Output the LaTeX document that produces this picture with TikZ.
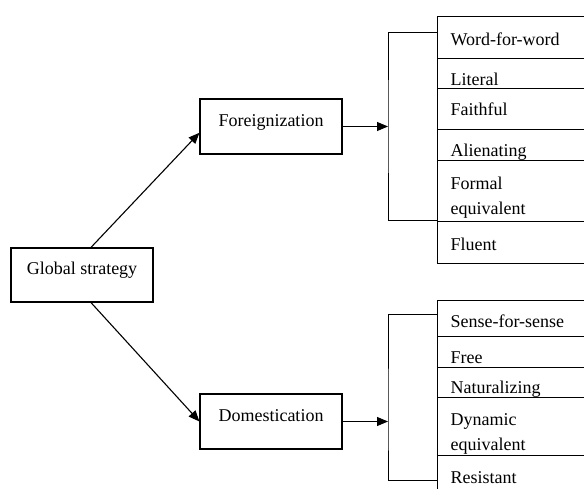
\documentclass[tikz,border=0pt]{standalone}
\usepackage{fontspec}
\setmainfont{Liberation Serif}
\usetikzlibrary{arrows.meta}

\tikzset{
	mainbox/.style={draw, line width=1.1pt, minimum width=142pt, minimum height=55pt, inner sep=0pt, text height=12pt, text depth=12pt},
	itembox/.style={draw, line width=1.1pt, anchor=north west, inner xsep=13pt, inner ysep=0pt, text width=140pt, align=left},
	link/.style={line width=1.1pt, -{Triangle[length=11pt,width=9pt]}},
	brace/.style={line width=1pt}
}

\begin{document}
\begin{tikzpicture}[x=1pt, y=-1pt, every node/.style={font=\fontsize{18}{25}\selectfont}]
	\useasboundingbox (0,0) rectangle (584,489);
	\node[mainbox, minimum height=54pt] (G) at (82, 275) {Global strategy};
	\node[mainbox] (F) at (271, 126.5) {Foreignization};
	\node[mainbox] (D) at (271, 421.5) {Domestication};
	\draw[link] (G.72) -- (F.185);
	\draw[link] (G.-72) -- (D.west);
	% foreignizing methods
	\node[itembox, text height=29pt, text depth=13pt] (w1) at (437, 16) {Word-for-word};
	\node[itembox, text height=27pt, text depth=3pt] (w2) at (437, 58) {Literal};
	\node[itembox, text height=27pt, text depth=14pt] (w3) at (437, 88) {Faithful};
	\node[itembox, text height=27pt, text depth=4pt] (w4) at (437, 129) {Alienating};
	\node[itembox, text height=29pt, text depth=32pt] (w5) at (437, 160) {Formal\\equivalent};
	\node[itembox, text height=29pt, text depth=13pt] (w6) at (437, 221) {Fluent};
	\coordinate (fb) at (388, 126.5);
	\coordinate (ftop) at (437, 33);
	\coordinate (fbot) at (437, 221);
	\draw[brace] (ftop) -| (fb) |- (fbot);
	\draw[link] (F.east) -- (fb);
	% domesticating methods
	\node[itembox, text height=27pt, text depth=9pt] (s1) at (437, 300) {Sense-for-sense};
	\node[itembox, text height=27pt, text depth=4pt] (s2) at (437, 336) {Free};
	\node[itembox, text height=26pt, text depth=4pt] (s3) at (437, 367) {Naturalizing};
	\node[itembox, text height=28pt, text depth=30pt] (s4) at (437, 397) {Dynamic\\equivalent};
	\node[itembox, text height=28pt, text depth=17pt] (s5) at (437, 455) {Resistant};
	\coordinate (db) at (388, 421.5);
	\coordinate (dtop) at (437, 314);
	\coordinate (dbot) at (437, 480);
	\draw[brace] (dtop) -| (db) |- (dbot);
	\draw[link] (D.east) -- (db);
\end{tikzpicture}
\end{document}
